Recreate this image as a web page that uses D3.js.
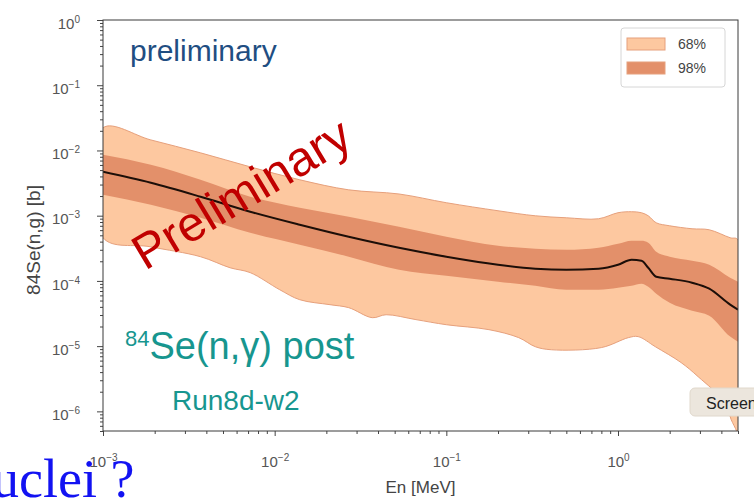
<!DOCTYPE html>
<meta charset="utf-8">
<html>
<head>
  <title>84Se(n,g) posterior</title>
  <script src="https://d3js.org/d3.v7.min.js"></script>
  <style>
    body { margin: 0; background: #fff; }
    text { font-family: "Liberation Sans", Arial, sans-serif; }
  </style>
</head>
<body>
<div id="chart"></div>
<script>

  // energies (MeV) on which mean and bands were read
  var enGrid = [0.001, 0.0019, 0.0037, 0.0072, 0.014, 0.027, 0.053, 0.10, 0.20, 0.33, 0.5,
    0.77, 1.0, 1.2, 1.37, 1.5, 1.67, 2.0, 2.7, 3.4, 4.5, 5.0];
  var meanXs = [4.70e-3, 3.19e-3, 1.95e-3, 1.15e-3, 7.26e-4, 4.75e-4, 3.22e-4, 2.35e-4, 1.77e-4, 1.54e-4, 1.48e-4,
    1.54e-4, 1.77e-4, 2.11e-4, 2.04e-4, 1.59e-4, 1.16e-4, 1.08e-4, 9.4e-5, 7.6e-5, 4.32e-5, 3.62e-5];
  var band98Hi = [8.57e-3, 6.02e-3, 3.55e-3, 1.95e-3, 1.32e-3, 9.62e-4, 6.76e-4, 4.75e-4, 3.46e-4, 3.11e-4, 3.0e-4,
    3.22e-4, 3.71e-4, 4.13e-4, 4.13e-4, 3.85e-4, 2.80e-4, 2.35e-4, 2.04e-4, 1.77e-4, 1.12e-4, 9.7e-5];
  var band98Lo = [2.09e-3, 1.47e-3, 9.29e-4, 5.47e-4, 3.58e-4, 2.35e-4, 1.48e-4, 1.20e-4, 9.7e-5, 8.44e-5, 7.33e-5,
    7.33e-5, 7.87e-5, 8.44e-5, 9.06e-5, 8.15e-5, 6.37e-5, 4.63e-5, 3.50e-5, 2.93e-5, 1.40e-5, 1.17e-5];
  var band68Hi = [2.22e-2, 1.45e-2, 9.19e-3, 5.61e-3, 3.55e-3, 2.49e-3, 2.15e-3, 1.58e-3, 1.19e-3, 9.96e-4, 9.29e-4,
    8.97e-4, 1.11e-3, 1.15e-3, 1.11e-3, 9.96e-4, 7.78e-4, 7.0e-4, 6.30e-4, 6.08e-4, 4.59e-4, 4.28e-4];

  // lower edge of the wide band is ragged, read on its own grid
  var enLow = [0.001, 0.00188, 0.0037, 0.0055, 0.0072, 0.0107, 0.014, 0.021, 0.027, 0.037, 0.0446, 0.0665, 0.10,
    0.177, 0.264, 0.33, 0.41, 0.80, 1.15, 1.31, 1.65, 2.33, 2.93, 4.2, 4.56, 4.9, 5.0];
  var band68Lo = [4.59e-4, 3.34e-4, 2.35e-4, 1.59e-4, 1.34e-4, 7.33e-5, 5.15e-5, 4.32e-5, 3.89e-5, 2.73e-5, 3.03e-5,
    2.55e-5, 2.13e-5, 1.79e-5, 1.35e-5, 9.8e-6, 8.8e-6, 9.5e-6, 1.35e-5, 1.40e-5, 9.8e-6, 5.6e-6, 3.4e-6, 1.36e-6,
    7.5e-7, 5e-7, 4e-7];

  var legendLabels = ["68%", "98%"];
  var xTickExp = [-3, -2, -1, 0];
  var yTickExp = [0, -1, -2, -3, -4, -5, -6];

  var W = 754, H = 499;
  var margin = { top: 20, right: 16, bottom: 68, left: 103 },
    width = W - margin.left - margin.right,
    height = H - margin.top - margin.bottom;

  var colLight = "#fdc8a0", colDark = "#e3906a", colEdge = "#e6a07c";

  var svg = d3.select("#chart").append("svg")
    .attr("width", W).attr("height", H);
  svg.append("rect").attr("width", W).attr("height", H).attr("fill", "#fff");

  var g = svg.append("g")
    .attr("transform", "translate(" + margin.left + "," + margin.top + ")");

  var x = d3.scaleLog().domain([1e-3, 5]).range([0, width]);
  var y = d3.scaleLog().domain([5e-7, 1]).range([height, 0]);

  g.append("clipPath").attr("id", "clip")
    .append("rect").attr("width", width).attr("height", height);
  var plot = g.append("g").attr("clip-path", "url(#clip)");

  // wide band: upper edge forward, ragged lower edge back
  var poly = enGrid.map(function (e, i) { return [x(e), y(band68Hi[i])]; });
  for (var i = enLow.length - 1; i >= 0; i--) poly.push([x(enLow[i]), y(band68Lo[i])]);
  plot.append("path")
    .attr("d", d3.line().curve(d3.curveCatmullRomClosed.alpha(0.5))(poly))
    .attr("fill", colLight).attr("stroke", colEdge).attr("stroke-width", 1);

  var area98 = d3.area()
    .x(function (d, i) { return x(enGrid[i]); })
    .y0(function (d, i) { return y(band98Lo[i]); })
    .y1(function (d, i) { return y(band98Hi[i]); })
    .curve(d3.curveMonotoneX);
  plot.append("path").attr("d", area98(enGrid)).attr("fill", colDark);

  var meanLine = d3.line()
    .x(function (d, i) { return x(enGrid[i]); })
    .y(function (d) { return y(d); })
    .curve(d3.curveMonotoneX);
  plot.append("path").attr("d", meanLine(meanXs))
    .attr("fill", "none").attr("stroke", "#1c0e08").attr("stroke-width", 2);

  // ticks
  function minors(lo, hi) {
    var out = [];
    for (var p = lo; p <= hi; p++)
      for (var k = 2; k <= 9; k++) out.push(k * Math.pow(10, p));
    return out;
  }
  function expLabel(sel, anchor) {
    sel.each(function (d) {
      var t = d3.select(this), e = Math.round(Math.log10(d));
      t.text(null).attr("text-anchor", anchor);
      t.append("tspan").text("10");
      t.append("tspan").attr("dy", "-0.6em").attr("font-size", "10px")
        .text(e < 0 ? "\u2212" + (-e) : "" + e);
    });
  }

  var xMinor = minors(-3, 0).filter(function (v) { return v <= 5; });
  g.append("g").attr("transform", "translate(0," + height + ")")
    .call(d3.axisBottom(x).tickValues(xMinor).tickSize(3).tickFormat(""))
    .call(function (a) { a.select(".domain").remove(); a.selectAll("line").attr("stroke", "#444"); });
  var xAx = g.append("g").attr("transform", "translate(0," + height + ")")
    .call(d3.axisBottom(x).tickValues(xTickExp.map(function (e) { return Math.pow(10, e); }))
      .tickSize(5).tickPadding(31));
  xAx.select(".domain").remove();
  xAx.selectAll("line").attr("stroke", "#444");
  xAx.selectAll("text").attr("fill", "#555").attr("font-size", "15px").attr("dy", "0")
    .call(expLabel, "middle");

  var yMinor = minors(-7, -1).filter(function (v) { return v >= 5e-7; });
  g.append("g")
    .call(d3.axisLeft(y).tickValues(yMinor).tickSize(3).tickFormat(""))
    .call(function (a) { a.select(".domain").remove(); a.selectAll("line").attr("stroke", "#444"); });
  var yAx = g.append("g")
    .call(d3.axisLeft(y).tickValues(yTickExp.map(function (e) { return Math.pow(10, e); }))
      .tickSize(6).tickPadding(17));
  yAx.select(".domain").remove();
  yAx.selectAll("line").attr("stroke", "#444");
  yAx.selectAll("text").attr("fill", "#555").attr("font-size", "15px").attr("dy", "0.55em")
    .call(expLabel, "end");

  g.append("rect").attr("width", width).attr("height", height)
    .attr("fill", "none").attr("stroke", "#3a3a3a").attr("stroke-width", 1);

  // axis titles
  g.append("text").attr("x", width / 2).attr("y", height + 62)
    .attr("text-anchor", "middle").attr("font-size", "17px").attr("fill", "#444")
    .text("En [MeV]");
  svg.append("text")
    .attr("transform", "translate(40,240) rotate(-90)")
    .attr("text-anchor", "middle").attr("font-size", "19px").attr("fill", "#444")
    .text("84Se(n,g) [b]");

  // legend
  var lg = g.append("g").attr("transform", "translate(" + (width - 117) + ",8)");
  lg.append("rect").attr("width", 104).attr("height", 59).attr("rx", 3)
    .attr("fill", "#fff").attr("stroke", "#d6d6d6");
  legendLabels.forEach(function (lab, i) {
    lg.append("rect").attr("x", 6).attr("y", 10 + i * 24).attr("width", 38).attr("height", 12)
      .attr("fill", i === 0 ? colLight : colDark).attr("stroke", colEdge);
    lg.append("text").attr("x", 57).attr("y", 21 + i * 24)
      .attr("font-size", "14px").attr("fill", "#444").text(lab);
  });

  // annotations
  svg.append("text").attr("x", 130).attr("y", 61)
    .attr("font-size", "30px").attr("fill", "#1f4e82").text("preliminary");

  svg.append("text").attr("transform", "translate(145,271) rotate(-31)")
    .attr("font-size", "49px").attr("fill", "#c00000").text("Preliminary");

  var se = svg.append("text").attr("x", 125).attr("y", 359)
    .attr("font-size", "38px").attr("fill", "#17968f");
  se.append("tspan").attr("font-size", "22px").attr("dy", "-13").text("84");
  se.append("tspan").attr("dy", "13").text("Se(n,\u03b3) post");

  svg.append("text").attr("x", 172).attr("y", 410)
    .attr("font-size", "28px").attr("fill", "#17968f").text("Run8d-w2");

  // overlaid slide bits
  svg.append("rect").attr("x", 690).attr("y", 388).attr("width", 80).attr("height", 28).attr("rx", 5)
    .attr("fill", "#ece6dd").attr("stroke", "#e0d8cc");
  svg.append("text").attr("x", 706).attr("y", 409)
    .attr("font-size", "16px").attr("fill", "#222").text("Screen");

  svg.append("text").attr("x", -8).attr("y", 497)
    .style("font-family", "'Liberation Serif', 'Times New Roman', serif")
    .attr("font-size", "54px").attr("fill", "#1212f2").text("uclei ?");

</script>
</body>
</html>
